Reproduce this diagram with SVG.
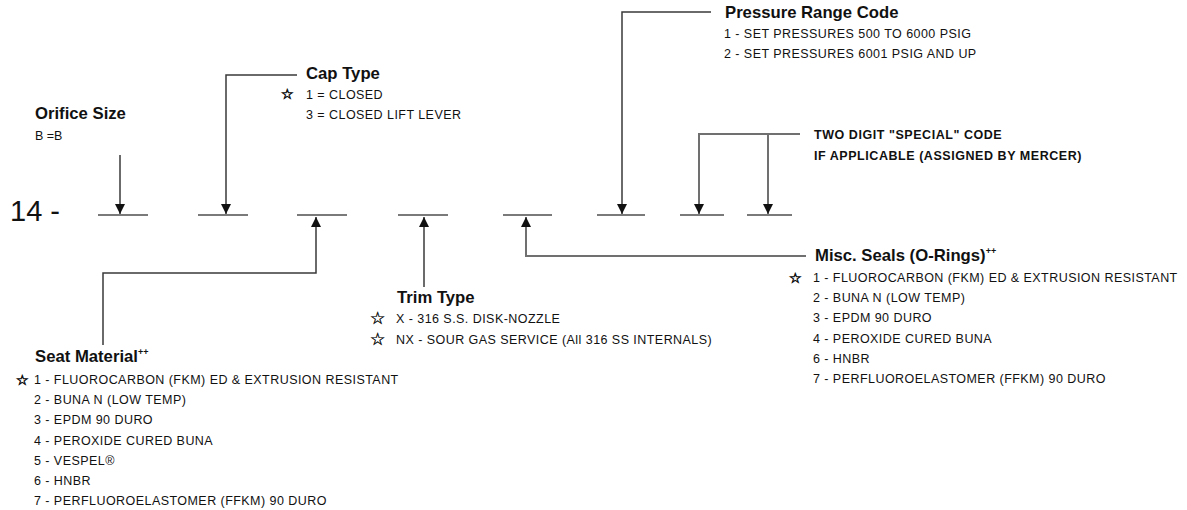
<svg xmlns="http://www.w3.org/2000/svg" width="1187" height="510" viewBox="0 0 1187 510">
<style>
  text { font-family: "Liberation Sans", Arial, sans-serif; fill: #111; }
  .h { font-weight: bold; font-size: 16.7px; }
  .b { font-size: 12.5px; letter-spacing: 0.45px; }
  .sb { font-weight: bold; font-size: 12.5px; letter-spacing: 0.55px; }
  .sup { font-weight: bold; font-size: 9px; }
  .star { font-family: "DejaVu Sans", sans-serif; font-size: 14px; stroke: #111; stroke-width: 0.7; }
  .starL { font-family: "DejaVu Sans", sans-serif; font-size: 17px; stroke: #111; stroke-width: 0.4; }
  .blank { stroke: #7a7a7a; stroke-width: 2; fill: none; }
  .conn { stroke: #3a3a3a; stroke-width: 1.5; fill: none; }
  .connG { stroke: #707070; stroke-width: 2; fill: none; }
</style>
<defs>
  <marker id="arr" viewBox="0 0 10 10" refX="10" refY="5" markerWidth="10" markerHeight="10" markerUnits="userSpaceOnUse" orient="auto">
    <path d="M0,0 L10,5 L0,10 Z" fill="#111"/>
  </marker>
</defs>
<rect width="1187" height="510" fill="#fff"/>

<g id="prefix">
  <text x="10" y="221" style="font-size:29px">14 -</text>
</g>

<g id="blanks">
  <line class="blank" x1="98" y1="215" x2="148" y2="215"/>
  <line class="blank" x1="198" y1="215" x2="248" y2="215"/>
  <line class="blank" x1="297" y1="215" x2="347" y2="215"/>
  <line class="blank" x1="398" y1="215" x2="448" y2="215"/>
  <line class="blank" x1="503" y1="215" x2="552" y2="215"/>
  <line class="blank" x1="597" y1="215" x2="645" y2="215"/>
  <line class="blank" x1="680" y1="215" x2="724" y2="215"/>
  <line class="blank" x1="747" y1="215" x2="792" y2="215"/>
</g>

<g id="connectors">
  <path class="conn" d="M120,155 V214" marker-end="url(#arr)"/>
  <path class="conn" d="M297,75 H226 V214" marker-end="url(#arr)"/>
  <path class="conn" d="M103,345 V273 H316 V217" marker-end="url(#arr)"/>
  <path class="conn" d="M424,287 V217" marker-end="url(#arr)"/>
  <path class="connG" d="M806,256 H526 V217" marker-end="url(#arr)"/>
  <path class="conn" d="M711,12 H622 V214" marker-end="url(#arr)"/>
  <path class="connG" d="M800,134 H699 V214" marker-end="url(#arr)"/>
  <path class="connG" d="M768,134 V214" marker-end="url(#arr)"/>
</g>

<g id="orifice-size">
  <text class="h" x="35" y="119">Orifice Size</text>
  <text class="b" x="35" y="140" style="letter-spacing:0">B =B</text>
</g>

<g id="cap-type">
  <text class="h" x="306" y="79">Cap Type</text>
  <text class="star" x="281" y="99">☆</text>
  <text class="b" x="306" y="99">1 = CLOSED</text>
  <text class="b" x="306" y="119">3 = CLOSED LIFT LEVER</text>
</g>

<g id="pressure-range-code">
  <text class="h" x="725" y="18">Pressure Range Code</text>
  <text class="b" x="724" y="38">1 - SET PRESSURES 500 TO 6000 PSIG</text>
  <text class="b" x="724" y="58">2 - SET PRESSURES 6001 PSIG AND UP</text>
</g>

<g id="special-code">
  <text class="sb" x="814" y="139">TWO DIGIT "SPECIAL" CODE</text>
  <text class="sb" x="814" y="160">IF APPLICABLE (ASSIGNED BY MERCER)</text>
</g>

<g id="misc-seals">
  <text class="h" x="815" y="261">Misc. Seals (O-Rings)<tspan class="sup" dy="-7">++</tspan></text>
  <text class="star" x="789" y="283">☆</text>
  <text class="b" x="813" y="282">1 - FLUOROCARBON (FKM) ED &amp; EXTRUSION RESISTANT</text>
  <text class="b" x="813" y="302">2 - BUNA N (LOW TEMP)</text>
  <text class="b" x="813" y="322">3 - EPDM 90 DURO</text>
  <text class="b" x="813" y="343">4 - PEROXIDE CURED BUNA</text>
  <text class="b" x="813" y="363">6 - HNBR</text>
  <text class="b" x="813" y="383">7 - PERFLUOROELASTOMER (FFKM) 90 DURO</text>
</g>

<g id="trim-type">
  <text class="h" x="397" y="303">Trim Type</text>
  <text class="starL" x="370" y="324">☆</text>
  <text class="b" x="396" y="323">X - 316 S.S. DISK-NOZZLE</text>
  <text class="starL" x="370" y="345">☆</text>
  <text class="b" x="396" y="344">NX - SOUR GAS SERVICE (All 316 SS INTERNALS)</text>
</g>

<g id="seat-material">
  <text class="h" x="35" y="362">Seat Material<tspan class="sup" dy="-7">++</tspan></text>
  <text class="star" x="16" y="385">☆</text>
  <text class="b" x="34" y="384">1 - FLUOROCARBON (FKM) ED &amp; EXTRUSION RESISTANT</text>
  <text class="b" x="34" y="404">2 - BUNA N (LOW TEMP)</text>
  <text class="b" x="34" y="424">3 - EPDM 90 DURO</text>
  <text class="b" x="34" y="445">4 - PEROXIDE CURED BUNA</text>
  <text class="b" x="34" y="465">5 - VESPEL®</text>
  <text class="b" x="34" y="485">6 - HNBR</text>
  <text class="b" x="34" y="505">7 - PERFLUOROELASTOMER (FFKM) 90 DURO</text>
</g>
</svg>
